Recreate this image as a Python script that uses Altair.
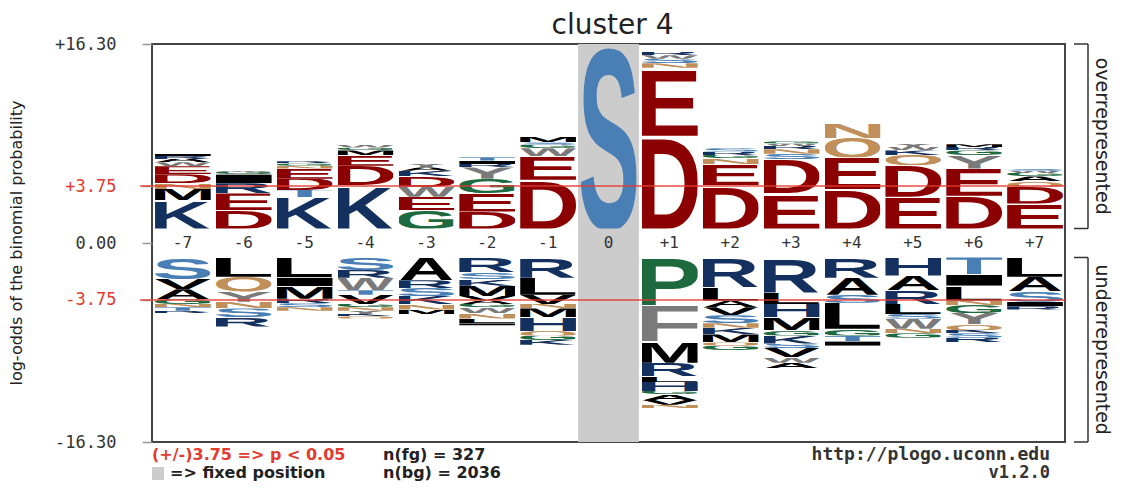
import urllib.parse
import altair as alt
import pandas as pd

# ---------------- data ----------------
chart_title = "cluster 4"
positions = ["-7", "-6", "-5", "-4", "-3", "-2", "-1", "0", "+1", "+2", "+3", "+4", "+5", "+6", "+7"]
fixed_positions = ["0"]
axis_max = 16.30
significance = 3.75
n_fg = 327
n_bg = 2036

over_letters = [
    ["K", "M", "N", "D", "E", "W", "A", "R", "I"],
    ["D", "E", "R", "I", "G", "W"],
    ["K", "T", "D", "E", "N", "G", "R"],
    ["K", "D", "E", "M", "G", "W"],
    ["G", "E", "W", "D", "K", "A", "Y"],
    ["D", "E", "G", "Y", "R", "I", "T"],
    ["D", "E", "W", "G", "S", "M"],
    ["S"],
    ["D", "E", "N", "S", "W", "R"],
    ["D", "E", "N", "G", "R", "S"],
    ["E", "D", "S", "N", "R", "W", "G"],
    ["D", "E", "Q", "N"],
    ["E", "D", "Q", "K", "W", "Y"],
    ["D", "E", "Y", "G", "R", "M"],
    ["E", "D", "Q", "A", "G", "W", "S"],
]
over_heights = [
    [2.5, 1.0, 0.5, 0.8, 0.7, 0.35, 0.3, 0.25, 0.2],
    [1.6, 1.5, 0.9, 0.8, 0.2, 0.15],
    [2.75, 0.65, 1.0, 0.9, 0.25, 0.2, 0.2],
    [3.8, 1.75, 0.9, 0.45, 0.25, 0.25],
    [1.6, 1.2, 0.9, 0.9, 0.5, 0.3, 0.3],
    [1.5, 1.6, 1.3, 1.0, 0.3, 0.3, 0.3],
    [4.3, 2.1, 0.7, 0.3, 0.2, 0.5],
    [16.3],
    [8.2, 6.0, 0.4, 0.4, 0.3, 0.3],
    [3.8, 1.9, 0.5, 0.3, 0.3, 0.3],
    [3.1, 3.0, 0.5, 0.4, 0.3, 0.2, 0.2],
    [3.5, 2.8, 1.7, 1.3],
    [2.8, 2.8, 0.9, 0.4, 0.3, 0.3],
    [2.9, 2.4, 1.2, 0.4, 0.3, 0.25],
    [2.2, 1.5, 0.5, 0.4, 0.3, 0.2, 0.2],
]
under_letters = [
    ["S", "V", "A", "G", "N", "T", "R"],
    ["L", "Q", "Y", "N", "S", "R"],
    ["L", "I", "M", "R", "S", "N"],
    ["S", "R", "W", "T", "V", "G", "N", "Y", "K", "Q"],
    ["A", "R", "S", "K", "N", "M"],
    ["R", "S", "K", "M", "V", "A", "G", "W", "N", "L", "I"],
    ["R", "L", "V", "N", "M", "H", "Q", "G", "K"],
    [],
    ["P", "F", "M", "R", "L", "H", "G", "A", "V", "N"],
    ["R", "L", "A", "V", "S", "N", "K", "M", "Q", "G"],
    ["R", "L", "H", "M", "G", "K", "S", "V", "W", "A"],
    ["R", "A", "S", "L", "G", "T", "I"],
    ["H", "A", "R", "L", "S", "W", "N", "G"],
    ["T", "I", "L", "N", "G", "Y", "Q", "K", "S", "R"],
    ["L", "A", "S", "I", "R"],
]
under_heights = [
    [1.9, 0.9, 0.9, 0.4, 0.3, 0.3, 0.2],
    [1.7, 1.3, 0.9, 0.6, 0.8, 0.8],
    [1.75, 0.8, 1.1, 0.4, 0.35, 0.3],
    [1.1, 0.7, 1.1, 0.4, 0.8, 0.3, 0.3, 0.3, 0.2, 0.2],
    [2.0, 0.7, 0.7, 0.7, 0.5, 0.4],
    [1.3, 0.6, 0.6, 0.9, 0.4, 0.3, 0.3, 0.5, 0.5, 0.4, 0.2],
    [1.8, 1.5, 0.8, 0.4, 0.8, 1.2, 0.4, 0.4, 0.4],
    [],
    [4.2, 3.2, 1.9, 1.2, 0.5, 0.8, 0.3, 0.5, 0.4, 0.3],
    [2.6, 1.2, 0.6, 0.7, 0.7, 0.4, 0.6, 0.7, 0.3, 0.4],
    [3.1, 1.0, 1.2, 1.1, 0.5, 0.7, 0.4, 0.8, 0.5, 0.5],
    [1.8, 1.5, 0.7, 2.3, 0.6, 0.5, 0.4],
    [1.6, 1.3, 1.2, 0.9, 0.4, 0.9, 0.4, 0.4],
    [1.5, 1.0, 1.3, 0.4, 0.7, 1.0, 0.5, 0.3, 0.4, 0.4],
    [1.7, 1.3, 0.9, 0.4, 0.3],
]

# ---------------- styles ----------------
RESIDUE_COLORS = {
    "D": "#8b0000", "E": "#8b0000",
    "K": "#13305e", "R": "#13305e", "H": "#13305e",
    "S": "#4a7fb5", "T": "#4a7fb5",
    "N": "#c08f5a", "Q": "#c08f5a",
    "G": "#1d6a3f", "P": "#1d6a3f", "C": "#1d6a3f",
    "A": "#000000", "V": "#000000", "L": "#000000", "I": "#000000", "M": "#000000",
    "F": "#7a7a7a", "W": "#7a7a7a", "Y": "#7a7a7a",
}
# advance width, left / right side bearing (1/1000 em, Arial bold metrics)
GLYPH_METRICS = {
    "A": (722, 0, 0), "C": (722, 45, 45), "D": (722, 75, 45), "E": (667, 75, 45),
    "F": (611, 75, 45), "G": (778, 45, 50), "H": (722, 75, 75), "I": (278, 70, 70),
    "K": (722, 75, 0), "L": (611, 75, 25), "M": (833, 70, 70), "N": (722, 75, 75),
    "P": (667, 75, 40), "Q": (778, 40, 40), "R": (722, 75, 10), "S": (667, 35, 35),
    "T": (611, 20, 20), "V": (667, 5, 5), "W": (944, 5, 5), "Y": (667, 5, 5),
}


def glyph_url(letter):
    adv, lsb, rsb = GLYPH_METRICS[letter]
    vx = lsb / 10.0
    vw = (adv - lsb - rsb) / 10.0
    svg = (
        f'<svg xmlns="http://www.w3.org/2000/svg" width="{vw}" height="71.6" '
        f'viewBox="{vx} -71.6 {vw} 71.6" preserveAspectRatio="none">'
        f'<text x="0" y="0" font-family="Liberation Sans, Arial, sans-serif" '
        f'font-weight="bold" font-size="100" fill="{RESIDUE_COLORS[letter]}">{letter}</text></svg>'
    )
    return "data:image/svg+xml;charset=utf-8," + urllib.parse.quote(svg)


W, H = 913, 398
GAP = 1.28                      # space (in units) kept around zero for the position labels
DMAX = axis_max + GAP
RED = "#e23b30"
SANS = "DejaVu Sans"
MONO = "DejaVu Sans Mono"

rows = []
for i, pos in enumerate(positions):
    cum = 0.0
    for L, h in zip(over_letters[i], over_heights[i]):
        rows.append({"pos": pos, "letter": L, "x0": i + 0.05, "x1": i + 0.965,
                     "ya": GAP + cum, "yb": GAP + cum + h, "url": glyph_url(L)})
        cum += h
    cum = 0.0
    for L, h in zip(under_letters[i], under_heights[i]):
        rows.append({"pos": pos, "letter": L, "x0": i + 0.05, "x1": i + 0.965,
                     "ya": -GAP - cum, "yb": -GAP - cum - h, "url": glyph_url(L)})
        cum += h
letters_df = pd.DataFrame(rows)

xs = alt.Scale(domain=[0, len(positions)], nice=False, zero=False)
ys = alt.Scale(domain=[-DMAX, DMAX], nice=False, zero=False)

tick_vals = [DMAX, GAP + significance, 0, -(GAP + significance), -DMAX]
label_expr = (
    f"datum.value > {GAP + 10} ? '+{axis_max:.2f}' : "
    f"datum.value > 1 ? '+{significance:.2f}' : "
    f"datum.value > -1 ? '0.00' : "
    f"datum.value > {-(GAP + 10)} ? '-{significance:.2f}' : '-{axis_max:.2f}'"
)
y_axis = alt.Axis(
    values=tick_vals, labelExpr=label_expr, title=None, grid=False, domain=False,
    ticks=True, tickSize=10, tickColor="#999999", tickWidth=1.5,
    labelFont=MONO, labelFontSize=17, labelPadding=26,
    labelOverlap=False, labelFlush=False, labelBound=False,
    labelColor={"condition": {"test": f"abs(datum.value) > 1 && abs(datum.value) < {GAP + 10}",
                              "value": RED}, "value": "#333333"},
)

band_df = pd.DataFrame({"pos": fixed_positions,
                        "x0": [positions.index(p) for p in fixed_positions],
                        "x1": [positions.index(p) + 1 for p in fixed_positions]})
band = alt.Chart(band_df).mark_rect(color="#cccccc").encode(
    x=alt.X("x0:Q", scale=xs, axis=None), x2="x1:Q",
    y=alt.value(0), y2=alt.value(H),
)

logo = alt.Chart(letters_df).mark_image(aspect=False).encode(
    x=alt.X("x0:Q", scale=xs, axis=None), x2="x1:Q",
    y=alt.Y("yb:Q", scale=ys, axis=y_axis), y2="ya:Q",
    url="url:N",
)

thr_df = pd.DataFrame({"t": [GAP + significance, -(GAP + significance)]})
thr = alt.Chart(thr_df).mark_rule(color=RED, strokeWidth=1.5, opacity=0.9).encode(
    y=alt.Y("t:Q", scale=ys), x=alt.value(-12), x2=alt.value(W),
)

pos_df = pd.DataFrame({"label": positions, "xc": [i + 0.5 for i in range(len(positions))]})
pos_text = alt.Chart(pos_df).mark_text(font=MONO, fontSize=16, color="#333333",
                                       baseline="middle").encode(
    x=alt.X("xc:Q", scale=xs), y=alt.value(H / 2), text="label:N",
)

ends_df = pd.DataFrame({"top": [DMAX, -GAP], "bottom": [GAP, -DMAX],
                        "name": ["overrepresented", "underrepresented"],
                        "mid": [(DMAX + GAP) / 2, -(DMAX + GAP) / 2]})
br_v = alt.Chart(ends_df).mark_rule(color="#333333", strokeWidth=1.5).encode(
    x=alt.value(936), y=alt.Y("top:Q", scale=ys), y2="bottom:Q")
br_t = alt.Chart(ends_df).mark_rule(color="#333333", strokeWidth=1.5).encode(
    x=alt.value(922), x2=alt.value(936), y=alt.Y("top:Q", scale=ys))
br_b = alt.Chart(ends_df).mark_rule(color="#333333", strokeWidth=1.5).encode(
    x=alt.value(922), x2=alt.value(936), y=alt.Y("bottom:Q", scale=ys))
br_text = alt.Chart(ends_df).mark_text(angle=90, font=SANS, fontSize=19,
                                       color="#222222", baseline="middle").encode(
    x=alt.value(950), y=alt.Y("mid:Q", scale=ys), text="name:N")


def label(txt, x, y, **kw):
    df = pd.DataFrame({"t": [txt]})
    return alt.Chart(df).mark_text(baseline="middle", **kw).encode(
        x=alt.value(x), y=alt.value(y), text="t:N")


title = label(chart_title, W / 2 + 4, -18, font=SANS, fontSize=28, color="#222222")
ytitle = label("log-odds of the binomial probability", -135, H / 2, angle=270,
               font=SANS, fontSize=16, color="#222222")
f1 = label(f"(+/-){significance:.2f} => p < 0.05", 0, 411, align="left",
           font=SANS, fontSize=16, fontWeight="bold", color=RED)
f2 = label(f"n(fg) = {n_fg}", 231, 411, align="left",
           font=SANS, fontSize=16, fontWeight="bold", color="#222222")
f3 = label("=> fixed position", 18, 429, align="left",
           font=SANS, fontSize=16, fontWeight="bold", color="#222222")
f4 = label(f"n(bg) = {n_bg}", 231, 429, align="left",
           font=SANS, fontSize=16, fontWeight="bold", color="#222222")
f5 = label("http://plogo.uconn.edu", 898, 411, align="right",
           font=MONO, fontSize=18, fontWeight="bold", color="#333333")
f6 = label("v1.2.0", 898, 429, align="right",
           font=MONO, fontSize=17, fontWeight="bold", color="#333333")
sq = alt.Chart(pd.DataFrame({"t": ["fixed"]})).mark_rect(color="#cccccc").encode(
    x=alt.value(0), x2=alt.value(12), y=alt.value(423), y2=alt.value(436))

chart = alt.layer(
    band, logo, thr, pos_text, br_v, br_t, br_b, br_text,
    title, ytitle, f1, f2, f3, f4, f5, f6, sq,
).properties(
    width=W, height=H,
    padding={"left": 144, "top": 36, "right": 51, "bottom": 42},
    autosize=alt.AutoSizeParams(type="none"),
).configure_view(stroke="#444444", strokeWidth=2)

chart.save("out.html", embed_options={"renderer": "svg", "actions": False})
